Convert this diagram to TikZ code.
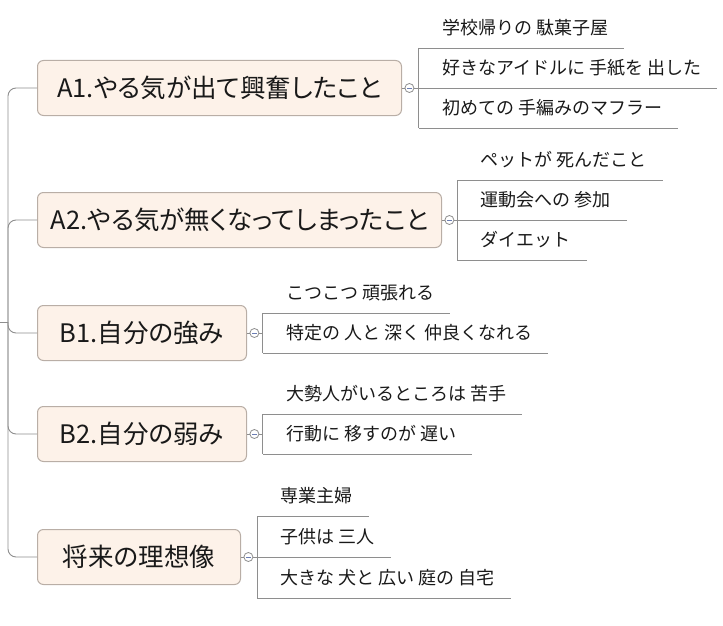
\documentclass[tikz,border=0pt]{standalone}
\usepackage{fontspec}
\usepackage{tikz}
\usetikzlibrary{positioning}

\newfontfamily\topicfont[RawFeature=+palt]{Noto Sans CJK JP}
\newfontfamily\leaffont{Noto Sans CJK JP}

\definecolor{topicfill}{HTML}{FDF2E9}
\definecolor{topicline}{HTML}{B9AEA6}
\definecolor{branchgray}{HTML}{8E8E8E}
\definecolor{foldblue}{HTML}{6B7DB3}

\tikzset{
  topic/.style={draw=topicline, fill=topicfill, rounded corners=6pt, line width=1pt,
    minimum height=55pt, anchor=west, text=black!90,
    font=\topicfont\fontsize{25.5}{28}\selectfont},
  fold/.style={circle, draw=branchgray, fill=white, minimum size=9pt, inner sep=0pt,
    line width=0.8pt,
    path picture={\draw[foldblue, line width=0.8pt]
      ([xshift=-2.3pt]path picture bounding box.center) --
      ([xshift=2.3pt]path picture bounding box.center);}},
  leaf/.style={anchor=south west, inner xsep=0pt, inner ysep=9pt,
    text height=13pt, text depth=4pt, text=black!90,
    font=\leaffont\fontsize{18}{20}\selectfont,
    execute at begin node=\hspace*{23pt}, execute at end node=\hspace*{16pt}},
  link/.style={draw=branchgray, line width=0.9pt}
}

\begin{document}
\begin{tikzpicture}[x=1pt, y=-1pt]
\useasboundingbox (0,0) rectangle (723,626);

% Root and main topics
\coordinate (root) at (0,322);
\coordinate (hub) at (8,322);
\node[topic, minimum width=364pt] (a1) at (37,88) {A1.やる気が出て興奮したこと};
\node[topic, minimum width=404pt] (a2) at (37,220) {A2.やる気が無くなってしまったこと};
\node[topic, minimum width=209pt] (b1) at (37,333) {B1.自分の強み};
\node[topic, minimum width=209pt] (b2) at (37,434) {B2.自分の弱み};
\node[topic, minimum width=203pt] (ideal) at (37,557) {将来の理想像};

% Trunk
\draw[link] (root) -- (hub);
\draw[link, rounded corners=8pt] (hub) |- (a1.west);
\draw[link, rounded corners=8pt] (hub) |- (a2.west);
\draw[link, rounded corners=8pt] (hub) |- (b1.west);
\draw[link, rounded corners=8pt] (hub) |- (b2.west);
\draw[link, rounded corners=8pt] (hub) |- (ideal.west);

% Fold circles
\node[fold, right=2.5pt of a1] (a1f) {};
\node[fold, right=2.5pt of a2] (a2f) {};
\node[fold, right=2.5pt of b1] (b1f) {};
\node[fold, right=2.5pt of b2] (b2f) {};
\node[fold, right=2.5pt of ideal] (idealf) {};

% A1 leaves
\node[leaf] (a1x1) at ([xshift=4.5pt,yshift=40pt]a1f.east) {学校帰りの 駄菓子屋};
\node[leaf] (a1x2) at ([xshift=4.5pt]a1f.east) {好きなアイドルに 手紙を 出した};
\node[leaf] (a1x3) at ([xshift=4.5pt,yshift=-40pt]a1f.east) {初めての 手編みのマフラー};

% A2 leaves
\node[leaf] (a2x1) at ([xshift=3pt,yshift=40pt]a2f.east) {ペットが 死んだこと};
\node[leaf] (a2x2) at ([xshift=3pt]a2f.east) {運動会への 参加};
\node[leaf] (a2x3) at ([xshift=3pt,yshift=-40pt]a2f.east) {ダイエット};

% B1 leaves
\node[leaf] (b1x1) at ([xshift=3.5pt,yshift=20pt]b1f.east) {こつこつ 頑張れる};
\node[leaf] (b1x2) at ([xshift=3.5pt,yshift=-20pt]b1f.east) {特定の 人と 深く 仲良くなれる};

% B2 leaves
\node[leaf] (b2x1) at ([xshift=3.5pt,yshift=20pt]b2f.east) {大勢人がいるところは 苦手};
\node[leaf] (b2x2) at ([xshift=3.5pt,yshift=-20pt]b2f.east) {行動に 移すのが 遅い};

% Ideal leaves
\node[leaf] (idealx1) at ([xshift=4pt,yshift=41pt]idealf.east) {専業主婦};
\node[leaf] (idealx2) at ([xshift=4pt]idealf.east) {子供は 三人};
\node[leaf] (idealx3) at ([xshift=4pt,yshift=-41pt]idealf.east) {大きな 犬と 広い 庭の 自宅};

% Topic to fold
\draw[link] (a1) -- (a1f);
\draw[link] (a2) -- (a2f);
\draw[link] (b1) -- (b1f);
\draw[link] (b2) -- (b2f);
\draw[link] (ideal) -- (idealf);

% Fold to leaves
\draw[link] (a1f) -- (a1x2.south west);
\draw[link] (a1x1.south west) -- (a1x3.south west);
\draw[link] (a2f) -- (a2x2.south west);
\draw[link] (a2x1.south west) -- (a2x3.south west);
\draw[link] (b1f) -- (b1f -| b1x1.south west);
\draw[link] (b1x1.south west) -- (b1x2.south west);
\draw[link] (b2f) -- (b2f -| b2x1.south west);
\draw[link] (b2x1.south west) -- (b2x2.south west);
\draw[link] (idealf) -- (idealx2.south west);
\draw[link] (idealx1.south west) -- (idealx3.south west);

% Underlines
\draw[link] (a1x1.south west) -- (a1x1.south east);
\draw[link] (a1x2.south west) -- (a1x2.south east);
\draw[link] (a1x3.south west) -- (a1x3.south east);
\draw[link] (a2x1.south west) -- (a2x1.south east);
\draw[link] (a2x2.south west) -- (a2x2.south east);
\draw[link] (a2x3.south west) -- (a2x3.south east);
\draw[link] (b1x1.south west) -- (b1x1.south east);
\draw[link] (b1x2.south west) -- (b1x2.south east);
\draw[link] (b2x1.south west) -- (b2x1.south east);
\draw[link] (b2x2.south west) -- (b2x2.south east);
\draw[link] (idealx1.south west) -- (idealx1.south east);
\draw[link] (idealx2.south west) -- (idealx2.south east);
\draw[link] (idealx3.south west) -- (idealx3.south east);

\end{tikzpicture}
\end{document}
